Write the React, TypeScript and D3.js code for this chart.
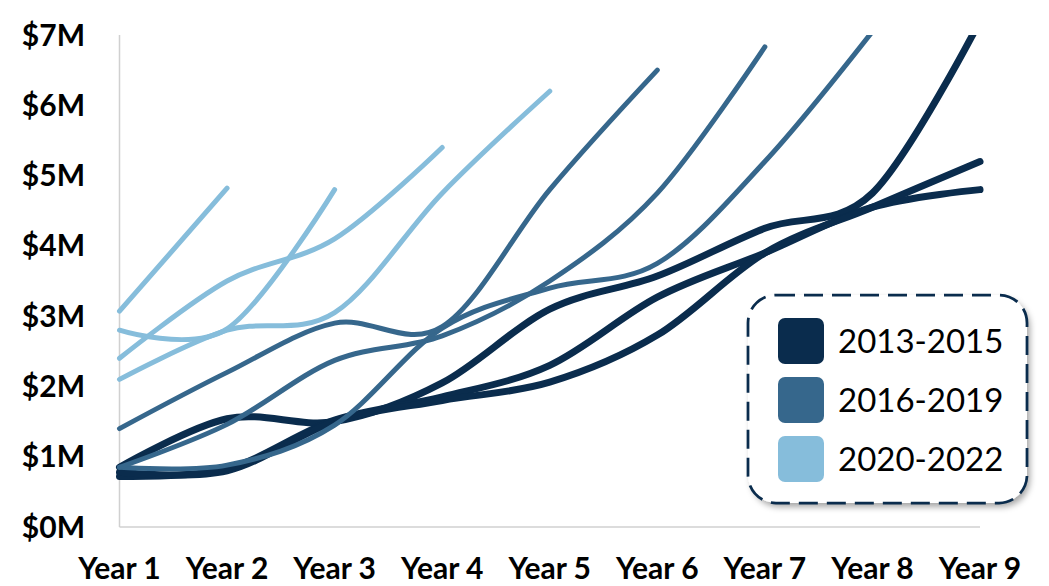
import React from 'react';
import * as d3 from 'd3';

// Category axis and value ticks
const years = ['Year 1', 'Year 2', 'Year 3', 'Year 4', 'Year 5', 'Year 6', 'Year 7', 'Year 8', 'Year 9'];
const valueTicks = [0, 1, 2, 3, 4, 5, 6, 7];

// Legend groups
const groupLabels = ['2013-2015', '2016-2019', '2020-2022'];
const groupColors = ['#0a2c4d', '#36678c', '#86bddb'];
const groupWidths = [7, 5, 5];

// Cumulative value by cohort ($M), one array per cohort line
const cohortA = [0.85, 1.54, 1.5, 2.05, 3.1, 3.57, 4.25, 4.75, 7.2];
const cohortB = [0.72, 0.83, 1.52, 1.85, 2.3, 3.27, 3.9, 4.55, 4.8];
const cohortC = [0.78, 0.8, 1.5, 1.8, 2.06, 2.73, 3.9, 4.55, 5.2];
const cohortD = [0.85, 0.88, 1.45, 2.83, 3.4, 3.75, 5.2, 7.05];
const cohortE = [0.85, 1.46, 2.37, 2.72, 3.5, 4.75, 6.83];
const cohortF = [1.4, 2.2, 2.9, 2.85, 4.8, 6.5];
const cohortG = [2.1, 2.8, 3.05, 4.75, 6.2];
const cohortH = [2.4, 3.5, 4.1, 5.4];
const cohortI = [2.8, 2.82, 4.8];
const cohortJ = [3.07, 4.82];

const cohortSeries: { values: number[]; group: number }[] = [
  { values: cohortA, group: 0 },
  { values: cohortB, group: 0 },
  { values: cohortC, group: 0 },
  { values: cohortD, group: 1 },
  { values: cohortE, group: 1 },
  { values: cohortF, group: 1 },
  { values: cohortG, group: 2 },
  { values: cohortH, group: 2 },
  { values: cohortI, group: 2 },
  { values: cohortJ, group: 2 },
];

const W = 1049;
const H = 586;
const plotLeft = 119.5;
const plotRight = 980;
const plotTop = 35;
const plotBottom = 527;

export default function App() {
  const x = d3.scalePoint<string>().domain(years).range([plotLeft, plotRight]);
  const y = d3.scaleLinear().domain([0, 7]).range([plotBottom, plotTop]);

  const line = d3
    .line<number>()
    .x((_, i) => x(years[i]) as number)
    .y((v) => y(v))
    .curve(d3.curveCardinal.tension(0));

  const font = 'Lato, "Open Sans", sans-serif';
  const legendRows = [318, 377, 436];

  return (
    <svg
      width={W}
      height={H}
      viewBox={`0 0 ${W} ${H}`}
      style={{ position: 'absolute', left: 0, top: 0, background: '#fff' }}
    >
      <defs>
        <clipPath id="plot-clip">
          <rect x={0} y={plotTop} width={W} height={H - plotTop} />
        </clipPath>
        <filter id="legend-shadow" x="-10%" y="-10%" width="125%" height="130%">
          <feDropShadow dx={3} dy={4} stdDeviation={3} floodColor="#000" floodOpacity={0.35} />
        </filter>
      </defs>

      {/* axes */}
      <line x1={plotLeft} x2={plotLeft} y1={plotTop} y2={plotBottom} stroke="#d0d0d0" strokeWidth={1.5} />
      <line x1={plotLeft} x2={plotRight} y1={plotBottom} y2={plotBottom} stroke="#d0d0d0" strokeWidth={1.5} />

      {valueTicks.map((t) => (
        <text
          key={t}
          x={85}
          y={y(t) + 10.5}
          textAnchor="end"
          fontFamily={font}
          fontWeight={700}
          fontSize={30}
          fill="#000"
        >
          {`$${t}M`}
        </text>
      ))}

      {years.map((yr) => (
        <text
          key={yr}
          x={x(yr) as number}
          y={579}
          textAnchor="middle"
          fontFamily={font}
          fontWeight={700}
          fontSize={30}
          fill="#000"
        >
          {yr}
        </text>
      ))}

      {/* cohort lines */}
      <g clipPath="url(#plot-clip)">
        {cohortSeries.map((s, i) => (
          <path
            key={i}
            d={line(s.values) || ''}
            fill="none"
            stroke={groupColors[s.group]}
            strokeWidth={groupWidths[s.group]}
            strokeLinecap="round"
            strokeLinejoin="round"
          />
        ))}
      </g>

      {/* legend */}
      <g>
        <rect
          x={748}
          y={295}
          width={279}
          height={208}
          rx={28}
          fill="#fff"
          filter="url(#legend-shadow)"
        />
        <rect
          x={748}
          y={295}
          width={279}
          height={208}
          rx={28}
          fill="none"
          stroke="#0a2c4d"
          strokeWidth={2.75}
          strokeDasharray="19 9"
        />
        {groupLabels.map((label, i) => (
          <g key={label}>
            <rect x={778} y={legendRows[i]} width={46} height={46} rx={7} fill={groupColors[i]} />
            <text
              x={838}
              y={legendRows[i] + 23 + 12}
              fontFamily={font}
              fontSize={33}
              fill="#000"
            >
              {label}
            </text>
          </g>
        ))}
      </g>
    </svg>
  );
}
